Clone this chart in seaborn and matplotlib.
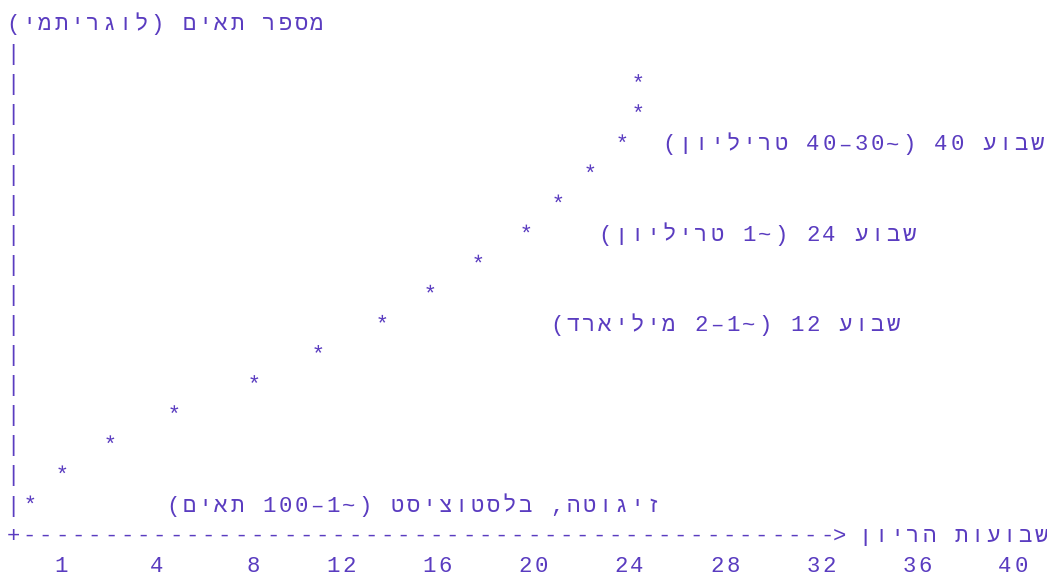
import re
import matplotlib
matplotlib.use("Agg")
import matplotlib.pyplot as plt
import seaborn as sns
import pandas as pd
import numpy as np
from matplotlib.textpath import TextPath
from matplotlib.font_manager import FontProperties
from matplotlib.path import Path

# ---------------- data ----------------
y_axis_title = "מספר תאים (לוגריתמי)"
x_axis_title = "שבועות הריון"
week_ticks = [1, 4, 8, 12, 16, 20, 24, 28, 32, 36, 40]
# ASCII chart: column of each star (time) and its log-level (0 = bottom row)
star_cols = [1, 3, 6, 10, 15, 19, 23, 26, 29, 32, 34, 36, 38, 39, 39]
star_levels = [0, 1, 2, 3, 4, 5, 6, 7, 8, 9, 10, 11, 12, 13, 14]
note_levels = [0, 6, 9, 12]
note_texts = [
    "זיגוטה, בלסטוציסט (~1–100 תאים)",
    "שבוע 12 (~1–2 מיליארד)",
    "שבוע 24 (~1 טריליון)",
    "שבוע 40 (~30–40 טריליון)",
]

# ---------------- layout / style ----------------
INK = "#5a3cc0"
W_PX, H_PX = 1047, 578
COL0_PX, COL_PX = 13.0, 16.0        # centre of column 0, column pitch
ROW0_PX, ROW_PX = 30.0, 30.1        # baseline of row 0, row pitch
N_LEVEL_ROWS = 16                   # row index of level 0
note_cols = [10, 34, 37, 41]
FS = 16.0

sns.set_theme(style="white")
plt.rcParams["font.family"] = ["Liberation Mono", "DejaVu Sans Mono", "DejaVu Sans"]
fp = FontProperties(family=["Liberation Mono", "DejaVu Sans Mono", "DejaVu Sans"], size=FS)

MIRROR = {"(": ")", ")": "("}


def visual(s):
    """Minimal bidi reordering for an RTL run (digits stay LTR, brackets mirror)."""
    r = s[::-1]
    r = re.sub(r"\d+", lambda m: m.group(0)[::-1], r)
    return "".join(MIRROR.get(c, c) for c in r)


fig = plt.figure(figsize=(W_PX / 100, H_PX / 100), dpi=100)
fig.patch.set_facecolor("white")
ax = fig.add_axes([0, 0, 1, 1])


def set_limits():
    ax.set_xlim(-COL0_PX / COL_PX, (W_PX - COL0_PX) / COL_PX)
    ax.set_ylim((H_PX - ROW0_PX) / ROW_PX, -ROW0_PX / ROW_PX)
    ax.axis("off")


set_limits()


def put(row, col0, s, pitch=1.0):
    for i, ch in enumerate(s):
        if ch == " ":
            continue
        ax.text(col0 + i * pitch, row, ch, ha="center", va="baseline",
                fontproperties=fp, color=INK)


# title row
put(0, 0, visual(y_axis_title))

# vertical axis
for r in range(1, N_LEVEL_ROWS + 1):
    put(r, 0, "|")

# stars via seaborn scatter with an asterisk glyph marker
tp = TextPath((0, 0), "*", size=FS, prop=fp)
v = tp.vertices
xmin, ymin = v.min(axis=0)
xmax, ymax = v.max(axis=0)
cx, cy = (xmin + xmax) / 2, (ymin + ymax) / 2
star_path = Path(v - [cx, cy], tp.codes)
ext_pt = max(xmax - xmin, ymax - ymin)
lift_rows = cy * 100 / 72 / ROW_PX

df = pd.DataFrame({"col": star_cols, "level": star_levels})
df["row"] = N_LEVEL_ROWS - df["level"] - lift_rows
sns.scatterplot(data=df, x="col", y="row", marker=star_path, s=ext_pt ** 2,
                color=INK, edgecolor="none", linewidth=0, ax=ax, legend=False)
set_limits()

# annotations
for lvl, txt, c in zip(note_levels, note_texts, note_cols):
    put(N_LEVEL_ROWS - lvl, c, visual(txt))

# horizontal axis with arrow
axis_row = N_LEVEL_ROWS + 1
put(axis_row, 0, "+")
put(axis_row, 1.017, "-" * 50, pitch=1.017)
put(axis_row, 51.65, ">")
put(axis_row, 53.25, visual(x_axis_title))

# tick labels
tick_line = f"{week_ticks[0]:>4}" + "".join(f"{t:>6}" for t in week_ticks[1:])
put(axis_row + 1, 0, tick_line)

fig.savefig("out.png", dpi=100, facecolor="white")
